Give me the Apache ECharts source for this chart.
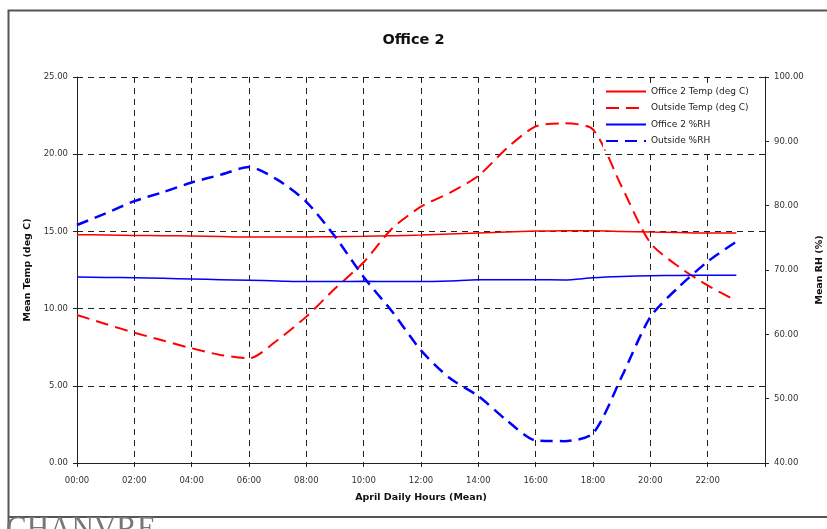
<!DOCTYPE html>
<html>
<head>
<meta charset="utf-8">
<script src="https://cdn.jsdelivr.net/npm/echarts@6/dist/echarts.min.js"></script>
<style>
html,body{margin:0;padding:0;background:#fff;}
#chart{width:827px;height:529px;}
</style>
</head>
<body>
<div id="chart"></div>
<script>
var hours = [0,1,2,3,4,5,6,7,8,9,10,11,12,13,14,15,16,17,18,19,20,21,22,23];
var officeTemp = [14.79,14.77,14.74,14.72,14.70,14.67,14.64,14.64,14.64,14.66,14.68,14.72,14.76,14.83,14.90,14.96,15.02,15.04,15.04,15.00,14.96,14.93,14.90,14.90];
var outsideTemp = [9.59,9.0,8.44,7.93,7.43,7.0,6.78,7.97,9.48,11.3,13.0,15.2,16.6,17.5,18.6,20.4,21.8,22.0,21.6,17.9,14.25,12.7,11.5,10.5];
var officeRH = [68.9,68.85,68.8,68.7,68.6,68.5,68.4,68.3,68.2,68.2,68.25,68.2,68.2,68.3,68.5,68.5,68.5,68.45,68.8,69.0,69.1,69.15,69.2,69.2];
var outsideRH = [77.0,78.8,80.7,82.1,83.6,84.8,86.0,84.0,80.6,75.2,68.9,63.5,57.5,53.2,50.4,46.6,43.5,43.4,44.6,53.4,62.7,67.4,71.3,74.4];
var seriesNames = ['Office 2 Temp (deg C)','Outside Temp (deg C)','Office 2 %RH','Outside %RH'];

function pairs(vals){ return hours.map(function(h,i){ return [h, vals[i]]; }); }
var FONT = 'DejaVu Sans';

var chart = echarts.init(document.getElementById('chart'), null, {renderer:'canvas'});
chart.setOption({
  animation:false,
  backgroundColor:'#fff',
  title:{
    text:'Office 2', left:'center', top:28,
    textStyle:{fontFamily:FONT, fontSize:14.5, fontWeight:'bold', color:'#111'}
  },
  legend:{
    orient:'vertical', left:603, top:85,
    itemWidth:40, itemHeight:8, itemGap:7.5,
    backgroundColor:'#fff', padding:[2,6,4,2],
    itemStyle:{opacity:0},
    textStyle:{fontFamily:FONT, fontSize:9, color:'#222'},
    data:seriesNames
  },
  grid:{left:77, right:62, top:77, bottom:66, containLabel:false, outerBoundsMode:'none'},
  xAxis:{
    type:'value', min:0, max:24, interval:2,
    name:'April Daily Hours (Mean)', nameLocation:'middle', nameGap:30,
    nameTextStyle:{fontFamily:FONT, fontSize:9.5, fontWeight:'bold', color:'#111'},
    axisLine:{show:true, lineStyle:{color:'#222', width:1}},
    axisTick:{show:true, length:4, lineStyle:{color:'#222'}},
    axisLabel:{fontFamily:FONT, fontSize:8.5, color:'#333', margin:13,
      formatter:function(v){ if(v>=24) return ''; return (v<10?'0':'')+v+':00'; }},
    splitLine:{show:true, lineStyle:{color:'#222', type:[6,5], width:1}}
  },
  yAxis:[{
    type:'value', min:0, max:25, interval:5, position:'left',
    name:'Mean Temp (deg C)', nameLocation:'middle', nameGap:41, nameRotate:90,
    nameTextStyle:{fontFamily:FONT, fontSize:9.5, fontWeight:'bold', color:'#111'},
    axisLine:{show:true, lineStyle:{color:'#222', width:1}},
    axisTick:{show:true, length:4, lineStyle:{color:'#222'}},
    axisLabel:{fontFamily:FONT, fontSize:8.5, color:'#333', margin:9,
      formatter:function(v){ return v.toFixed(2); }},
    splitLine:{show:true, lineStyle:{color:'#222', type:[6,5], width:1}}
  },{
    type:'value', min:40, max:100, interval:10, position:'right',
    name:'Mean RH (%)', nameLocation:'middle', nameGap:45, nameRotate:90,
    nameTextStyle:{fontFamily:FONT, fontSize:9.5, fontWeight:'bold', color:'#111'},
    axisLine:{show:true, lineStyle:{color:'#222', width:1}},
    axisTick:{show:true, length:4, lineStyle:{color:'#222'}},
    axisLabel:{fontFamily:FONT, fontSize:8.5, color:'#333', margin:9,
      formatter:function(v){ return v.toFixed(2); }},
    splitLine:{show:false}
  }],
  series:[{
    name:seriesNames[0], type:'line', yAxisIndex:0, data:pairs(officeTemp),
    symbol:'none', smooth:0.25, lineStyle:{color:'#ff0000', width:1.5}, itemStyle:{color:'#ff0000'}
  },{
    name:seriesNames[1], type:'line', yAxisIndex:0, data:pairs(outsideTemp),
    symbol:'none', smooth:0.25, lineStyle:{color:'#ff0000', width:2, type:[13,7]}, itemStyle:{color:'#ff0000'}
  },{
    name:seriesNames[2], type:'line', yAxisIndex:1, data:pairs(officeRH),
    symbol:'none', smooth:0.25, lineStyle:{color:'#0000ff', width:1.5}, itemStyle:{color:'#0000ff'}
  },{
    name:seriesNames[3], type:'line', yAxisIndex:1, data:pairs(outsideRH),
    symbol:'none', smooth:0.25, lineStyle:{color:'#0000ff', width:2.5, type:[12,7]}, itemStyle:{color:'#0000ff'}
  }],
  graphic:[{
    type:'polyline', silent:true,
    shape:{points:[[8.5,529],[8.5,10.5],[830,10.5]]},
    style:{stroke:'#555', lineWidth:2, fill:null}
  },{
    type:'line', silent:true,
    shape:{x1:8, y1:517, x2:830, y2:517},
    style:{stroke:'#555', lineWidth:2}
  },{
    type:'text', left:6, top:514, silent:true,
    style:{text:'CHANVRE', fontFamily:'Liberation Serif', fontSize:31, fill:'#777', letterSpacing:1}
  }]
});
</script>
</body>
</html>
